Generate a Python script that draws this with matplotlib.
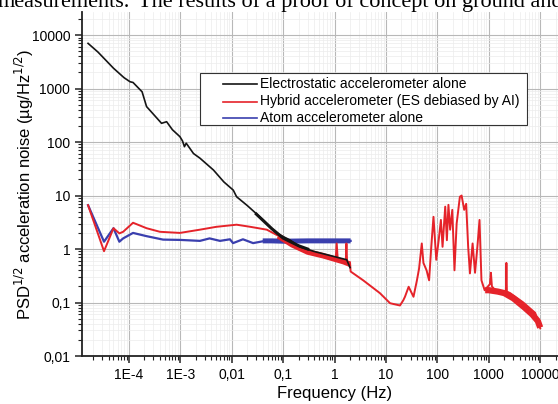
import matplotlib.pyplot as plt
from matplotlib.lines import Line2D
from matplotlib.patches import Rectangle
from matplotlib.ticker import FixedLocator, FixedFormatter, LogLocator, NullFormatter

# electrostatic accelerometer alone (black)
es_f = [1.6e-5, 2.5e-5, 5e-5, 8e-5, 1.05e-4, 1.2e-4, 1.8e-4, 2.2e-4, 3e-4, 4.3e-4, 5.4e-4, 7e-4,
        9.8e-4, 1.1e-3, 1.2e-3, 1.3e-3, 1.8e-3, 2.4e-3, 4.4e-3, 7e-3, 0.0107, 0.0124, 0.02, 0.041,
        0.075, 0.135, 0.21, 0.4, 1.0, 1.72, 2.0]
es_v = [7000, 4800, 2400, 1600, 1340, 1300, 870, 460, 330, 224, 240, 170,
        126, 105, 82, 95, 61, 50, 30, 18, 12.6, 9.5, 6.5, 3.5,
        1.96, 1.48, 1.1, 0.9, 0.72, 0.63, 0.45]
es_band_f = [0.03, 0.06, 0.1, 0.2, 0.3]
es_band_v = [4.5, 2.4, 1.6, 1.15, 1.0]

# hybrid accelerometer (red)
hy_f = [1.6e-5, 3.27e-5, 5e-5, 6.5e-5, 7.7e-5, 1.2e-4, 2.2e-4, 4e-4, 9.8e-4, 2.4e-3, 5e-3, 0.0124,
        0.023, 0.048, 0.087, 0.18, 0.39, 1.05, 1.1, 1.15, 1.3, 1.65, 1.7, 1.75, 2.0, 2.05,
        3.6, 7.6, 12, 18.7, 21.7, 23.4, 27.6, 34.3, 40, 44, 49.7, 53.5, 61.6, 69, 76, 84, 95,
        106, 117, 126, 142, 153, 164, 177, 195, 215, 237, 274, 296, 332, 363, 397, 430, 484,
        540, 600, 660, 720, 830, 1050, 1100, 1150, 1330, 2150, 2200, 2250, 2600,
        4700, 8000, 10000]
hy_v = [6.6, 0.91, 2.45, 1.96, 2.1, 3.1, 2.45, 2.1, 2.0, 2.3, 2.6, 2.85,
        2.6, 2.3, 1.7, 1.1, 0.85, 0.65, 1.27, 0.65, 0.62, 0.58, 1.27, 0.58, 0.55, 0.38,
        0.26, 0.15, 0.097, 0.088, 0.11, 0.128, 0.197, 0.128, 0.26, 0.43, 1.27, 0.55, 0.4, 0.26, 1.1, 4.0, 0.63,
        1.46, 3.5, 1.1, 6.2, 1.46, 6.7, 2.3, 5.4, 0.4, 3.0, 9.5, 10, 5.4, 7.0, 1.1, 0.35, 1.27,
        0.36, 1.1, 3.5, 0.26, 0.17, 0.22, 0.36, 0.2, 0.17, 0.16, 0.55, 0.16, 0.15,
        0.1, 0.064, 0.033]
hy_band_f = [0.08, 0.15, 0.3, 0.6, 1.0, 1.5, 2.0]
hy_band_v = [1.75, 1.2, 0.88, 0.75, 0.65, 0.58, 0.52]
hy_hf_f = [850, 1000, 1500, 2000, 3000, 5000, 7000, 9000, 10000]
hy_hf_v = [0.17, 0.17, 0.16, 0.15, 0.12, 0.08, 0.06, 0.045, 0.034]

# atom accelerometer alone (blue)
at_f = [1.6e-5, 3.27e-5, 5e-5, 6.5e-5, 7.7e-5, 1.2e-4, 2.2e-4, 4.6e-4, 1e-3, 2.4e-3, 3.7e-3, 5.9e-3,
        9.2e-3, 0.0106, 0.0165, 0.026, 0.05, 0.1, 2.05]
at_v = [6.6, 1.37, 2.45, 1.37, 1.58, 2.0, 1.74, 1.5, 1.48, 1.42, 1.58, 1.42,
        1.52, 1.29, 1.52, 1.29, 1.45, 1.4, 1.42]
at_band_f = [0.04, 0.06, 0.1, 0.3, 1.0, 2.05]
at_band_v = [1.42, 1.42, 1.4, 1.42, 1.42, 1.42]

xticks = [1e-4, 1e-3, 1e-2, 1e-1, 1, 10, 100, 1000, 10000]
xlabels = ["1E-4", "1E-3", "0,01", "0,1", "1", "10", "100", "1000", "10000"]
yticks = [0.01, 0.1, 1, 10, 100, 1000, 10000]
ylabels = ["0,01", "0,1", "1", "10", "100", "1000", "10000"]

names = ["Electrostatic accelerometer alone",
         "Hybrid accelerometer (ES debiased by AI)",
         "Atom accelerometer alone"]

black = "#151515"
red = "#e5232a"
blue = "#3a3fae"

plt.rcParams['font.family'] = ['Liberation Sans', 'DejaVu Sans']

W, H = 558, 404
fig = plt.figure(figsize=(W / 100, H / 100), dpi=100)
ax = fig.add_axes([82 / W, 48 / H, 506 / W, 344 / H])

ax.plot(at_f, at_v, color=blue, lw=1.6, zorder=3)
ax.plot(at_band_f, at_band_v, color=blue, lw=3.6, zorder=3, solid_capstyle='butt')
ax.plot(hy_f, hy_v, color=red, lw=1.4, zorder=4)
ax.plot(hy_band_f, hy_band_v, color=red, lw=4, zorder=4, solid_capstyle='butt')
ax.plot(hy_hf_f, hy_hf_v, color=red, lw=4.5, zorder=4, solid_capstyle='butt')
ax.plot(es_f, es_v, color=black, lw=1.2, zorder=5)
ax.plot(es_band_f, es_band_v, color=black, lw=2.2, zorder=5)

ax.set_xscale('log')
ax.set_yscale('log')
ax.set_xlim(1.22e-5, 10 ** 4.93)
ax.set_ylim(0.01, 2.7e4)

ax.xaxis.set_major_locator(FixedLocator(xticks))
ax.xaxis.set_major_formatter(FixedFormatter(xlabels))
ax.yaxis.set_major_locator(FixedLocator(yticks))
ax.yaxis.set_major_formatter(FixedFormatter(ylabels))
ax.xaxis.set_minor_locator(LogLocator(base=10, subs=range(2, 10), numticks=40))
ax.yaxis.set_minor_locator(LogLocator(base=10, subs=range(2, 10), numticks=40))
ax.xaxis.set_minor_formatter(NullFormatter())
ax.yaxis.set_minor_formatter(NullFormatter())

ax.tick_params(which='major', direction='out', length=5, width=1.1, labelsize=10, color='#222222')
ax.tick_params(which='minor', direction='out', length=3, width=0.8, color='#222222')

ax.grid(True, which='major', color='#b8b8b8', lw=0.8)
ax.grid(True, which='minor', color='#ececec', lw=0.5)
ax.set_axisbelow(True)

for side in ['top', 'right']:
    ax.spines[side].set_visible(False)
for side in ['left', 'bottom']:
    ax.spines[side].set_linewidth(1.3)
    ax.spines[side].set_color('#222222')

ax.set_xlabel("Frequency (Hz)", fontsize=12, labelpad=3)
ax.set_ylabel("PSD$^{1/2}$ acceleration noise (µg/Hz$^{1/2}$)", fontsize=12, labelpad=-3)

# legend box drawn by hand to match the original spacing
fig.add_artist(Rectangle((200 / W, 1 - 125 / H), 327 / W, 52 / H, transform=fig.transFigure,
                         facecolor='white', edgecolor='#333333', lw=0.8, zorder=10))
rows = [83.5, 101.5, 118.5]
for name, col, y in zip(names, [black, red, blue], rows):
    fig.add_artist(Line2D([223 / W, 257 / W], [1 - y / H, 1 - y / H], color=col, lw=1.2,
                          transform=fig.transFigure, zorder=11))
    fig.text(260 / W, 1 - y / H, name, ha='left', va='center', fontsize=10, zorder=11)

fig.text(130 / W, 1 - 7 / H, "measurements.", ha='right', va='baseline',
         fontsize=16, family='Liberation Serif')
fig.text(138 / W, 1 - 7 / H, "The results of a proof of concept on ground and",
         ha='left', va='baseline', fontsize=16, family='Liberation Serif')

fig.savefig("out.png", dpi=100)
